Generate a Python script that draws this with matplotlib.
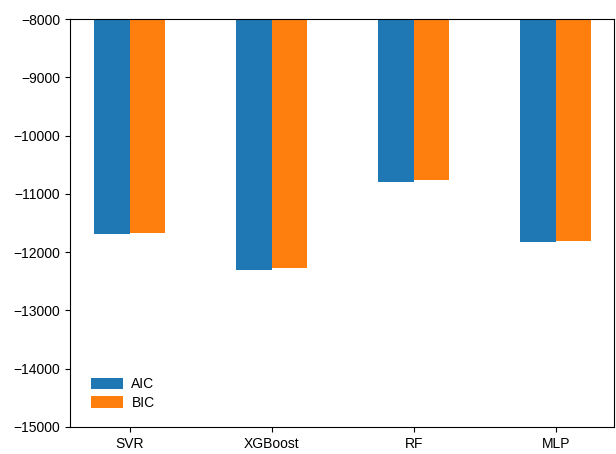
import numpy as np
import matplotlib.pyplot as plt

plt.rcParams['font.family'] = ['Liberation Sans', 'DejaVu Sans']
plt.rcParams['font.size'] = 10

models = ['SVR', 'XGBoost', 'RF', 'MLP']
aic = [-11690, -12300, -10800, -11830]
bic = [-11665, -12277, -10770, -11803]

x = np.arange(len(models))
w = 0.25

fig = plt.figure(figsize=(6.16, 4.54), dpi=100)
ax = fig.add_axes([0.1136, 0.0595, 0.883, 0.8985])
ax.bar(x - w/2, aic, w, color='#1f77b4', label='AIC')
ax.bar(x + w/2, bic, w, color='#ff7f0e', label='BIC')

ax.set_xticks(x)
ax.set_xticklabels(models)
ax.set_xlim(-0.42, 3.41)
ax.set_ylim(-15000, -8000)
ax.set_yticks(np.arange(-15000, -7999, 1000))
ax.legend(loc='lower left', frameon=False, handlelength=2.3,
          handleheight=0.9, handletextpad=0.6, labelspacing=0.3,
          bbox_to_anchor=(0.016, 0.012))

fig.savefig('out.png', dpi=100)
